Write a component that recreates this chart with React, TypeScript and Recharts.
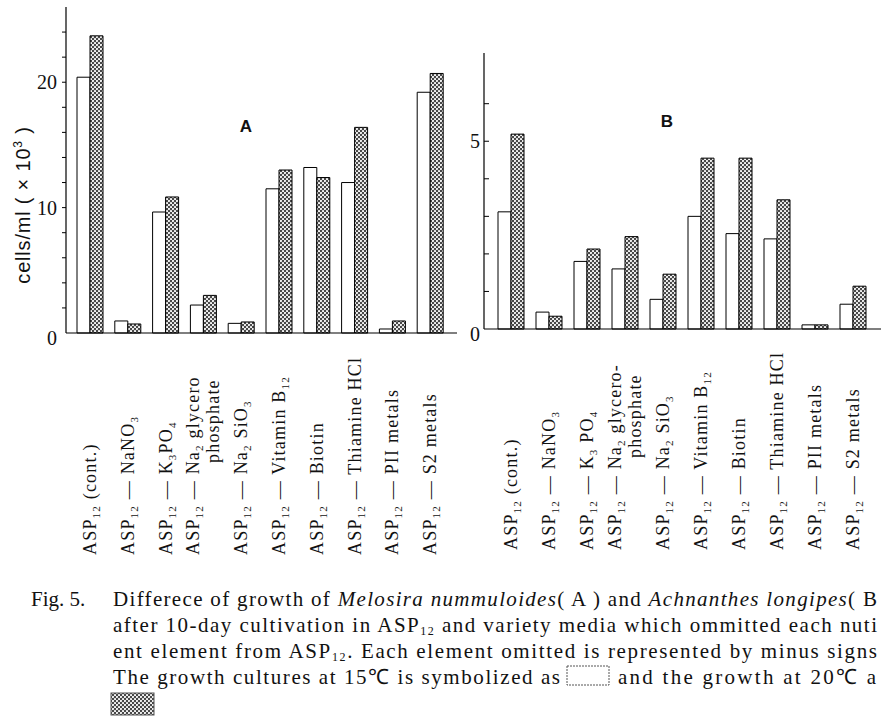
import React from "react";
import { Bar, BarChart, XAxis, YAxis } from "recharts";

// media: "_{..}" marks a subscript, "|" breaks the label onto a second line
const mediaA = [
  "ASP_{12} (cont.)",
  "ASP_{12} — NaNO_{3}",
  "ASP_{12} — K_{3}PO_{4}",
  "ASP_{12} — Na_{2} glycero|phosphate",
  "ASP_{12} — Na_{2} SiO_{3}",
  "ASP_{12} — Vitamin B_{12}",
  "ASP_{12} — Biotin",
  "ASP_{12} — Thiamine HCl",
  "ASP_{12} — PII metals",
  "ASP_{12} — S2 metals",
];
const mediaB = [
  "ASP_{12} (cont.)",
  "ASP_{12} — NaNO_{3}",
  "ASP_{12} — K_{3} PO_{4}",
  "ASP_{12} — Na_{2} glycero-|phosphate",
  "ASP_{12} — Na_{2} SiO_{3}",
  "ASP_{12} — Vitamin B_{12}",
  "ASP_{12} — Biotin",
  "ASP_{12} — Thiamine HCl",
  "ASP_{12} — PII metals",
  "ASP_{12} — S2 metals",
];

// cells/ml (x10^3), Melosira nummuloides (A)
const melosira15 = [20.4, 0.96, 9.65, 2.23, 0.77, 11.5, 13.2, 12.0, 0.32, 19.2];
const melosira20 = [23.7, 0.72, 10.85, 3.0, 0.88, 13.0, 12.4, 16.4, 0.96, 20.7];
// Achnanthes longipes (B)
const achnanthes15 = [3.12, 0.45, 1.8, 1.6, 0.79, 3.0, 2.54, 2.4, 0.11, 0.66];
const achnanthes20 = [5.19, 0.34, 2.13, 2.46, 1.46, 4.55, 4.55, 3.44, 0.11, 1.14];

const ticksA = [0, 2, 4, 6, 8, 10, 12, 14, 16, 18, 20, 22, 24];
const labelledA = [0, 10, 20];
const ticksB = [0, 1, 2, 3, 4, 5, 6];
const labelledB = [0, 5];

const dataA = mediaA.map((m, i) => ({ medium: m, t15: melosira15[i], t20: melosira20[i] }));
const dataB = mediaB.map((m, i) => ({ medium: m, t15: achnanthes15[i], t20: achnanthes20[i] }));

const serif = "'Liberation Serif', 'Times New Roman', serif";
const sans = "'Liberation Sans', Arial, sans-serif";
const ink = "#111";

function rich(s: string, subSize: number, shift: number) {
  const parts: { t: string; sub: boolean }[] = [];
  const re = /_\{([^}]*)\}/g;
  let last = 0;
  let m: RegExpExecArray | null;
  while ((m = re.exec(s))) {
    if (m.index > last) parts.push({ t: s.slice(last, m.index), sub: false });
    parts.push({ t: m[1], sub: true });
    last = re.lastIndex;
  }
  if (last < s.length) parts.push({ t: s.slice(last), sub: false });
  let cur = 0;
  return parts.map((p, i) => {
    const target = p.sub ? shift : 0;
    const dy = target - cur;
    cur = target;
    return (
      <tspan key={i} dy={dy} fontSize={p.sub ? subSize : undefined}>
        {p.t}
      </tspan>
    );
  });
}

function Stipple({ id }: { id: string }) {
  return (
    <pattern id={id} width={4} height={4} patternUnits="userSpaceOnUse">
      <rect width={4} height={4} fill="#484848" />
      <circle cx={1} cy={1} r={1.05} fill="#fff" />
      <circle cx={3} cy={3} r={1.05} fill="#fff" />
    </pattern>
  );
}

function MediumTick(props: any) {
  const { x, y, payload, drop } = props;
  const lines = String(payload.value).split("|");
  const half = (lines.length - 1) / 2;
  return (
    <g transform={`translate(${x},${y + drop}) rotate(-90)`}>
      {lines.map((line, i) => (
        <text
          key={i}
          x={i === 0 ? 0 : 92}
          y={(i - half) * 20 + 6}
          fontSize={18}
          fontFamily={serif}
          letterSpacing={1.2}
          fill={ink}
          style={{ whiteSpace: "pre" }}
        >
          {rich(line, 11, 4)}
        </text>
      ))}
    </g>
  );
}

function CountTick(props: any) {
  const { x, y, payload, labelled, inward, gap } = props;
  const v = payload.value;
  return (
    <g>
      {v > 0 && (
        <line x1={x} x2={inward ? x + 5 : x - 4} y1={y} y2={y} stroke="#000" strokeWidth={1} />
      )}
      {labelled.includes(v) && (
        <text
          x={x - gap}
          y={y + (v === 0 ? 5 : 0)}
          dy="0.36em"
          textAnchor="end"
          fontSize={20}
          fontFamily={serif}
          fill={ink}
        >
          {v}
        </text>
      )}
    </g>
  );
}

function Panel({
  data,
  width,
  top,
  axisHeight,
  right,
  yMax,
  ticks,
  labelled,
  inward,
  gap,
  pad,
  drop,
  pid,
}: any) {
  return (
    <BarChart
      width={width}
      height={560}
      data={data}
      margin={{ top, right, bottom: 0, left: 0 }}
      barGap={0}
      barSize={13}
    >
      <defs>
        <Stipple id={pid} />
      </defs>
      <XAxis
        dataKey="medium"
        height={axisHeight}
        interval={0}
        tickLine={false}
        tickSize={0}
        tickMargin={0}
        axisLine={{ stroke: "#000", strokeWidth: 1.2 }}
        padding={pad}
        tick={(p: any) => <MediumTick {...p} drop={drop} />}
      />
      <YAxis
        width={66}
        type="number"
        domain={[0, yMax]}
        ticks={ticks}
        interval={0}
        tickLine={false}
        tickSize={0}
        tickMargin={0}
        axisLine={{ stroke: "#000", strokeWidth: 1.2 }}
        tick={(p: any) => <CountTick {...p} labelled={labelled} inward={inward} gap={gap} />}
      />
      <Bar dataKey="t15" fill="#fff" stroke="#000" strokeWidth={1} isAnimationActive={false} />
      <Bar dataKey="t20" fill={`url(#${pid})`} stroke="#000" strokeWidth={1} isAnimationActive={false} />
    </BarChart>
  );
}

export default function App() {
  return (
    <div
      style={{
        position: "absolute",
        left: 0,
        top: 0,
        width: 881,
        height: 716,
        overflow: "hidden",
        background: "#fff",
      }}
    >
      <div style={{ position: "absolute", left: 0, top: 0 }}>
        <Panel
          data={dataA}
          width={470}
          top={7}
          axisHeight={227}
          right={13}
          yMax={26}
          ticks={ticksA}
          labelled={labelledA}
          inward={false}
          gap={9}
          pad={{ left: 5, right: 8 }}
          drop={222}
          pid="stippleA"
        />
      </div>
      <div style={{ position: "absolute", left: 418, top: 0 }}>
        <Panel
          data={dataB}
          width={463}
          top={53}
          axisHeight={231}
          right={0}
          yMax={7.35}
          ticks={ticksB}
          labelled={labelledB}
          inward={true}
          gap={4}
          pad={{ left: 8, right: 9 }}
          drop={221}
          pid="stippleB"
        />
      </div>
      <svg
        width={881}
        height={716}
        style={{ position: "absolute", left: 0, top: 0, pointerEvents: "none" }}
      >
        <defs>
          <Stipple id="stippleKey" />
        </defs>
        <text x={246} y={132} textAnchor="middle" fontFamily={sans} fontWeight="bold" fontSize={17} fill={ink}>
          A
        </text>
        <text x={667} y={127} textAnchor="middle" fontFamily={sans} fontWeight="bold" fontSize={17} fill={ink}>
          B
        </text>
        <text
          transform="translate(30,205) rotate(-90)"
          textAnchor="middle"
          fontFamily={sans}
          fontSize={20}
          letterSpacing={0.8}
          fill={ink}
          style={{ whiteSpace: "pre" }}
        >
          cells/ml ( × 10<tspan dy={-8} fontSize={12}>3</tspan>
          <tspan dy={8}> )</tspan>
        </text>

        <g fontFamily={serif} fontSize={21} fill={ink} style={{ whiteSpace: "pre" }}>
          <text x={31} y={606}>Fig. 5.</text>
          <text x={113} y={606} textLength={764} lengthAdjust="spacing">
            Differece of growth of <tspan fontStyle="italic">Melosira nummuloides</tspan>( A ) and{" "}
            <tspan fontStyle="italic">Achnanthes longipes</tspan>( B
          </text>
          <text x={113} y={632} textLength={764} lengthAdjust="spacing">
            after 10-day cultivation in ASP<tspan dy={3} fontSize={12}>12</tspan>
            <tspan dy={-3}> and variety media which ommitted each nuti</tspan>
          </text>
          <text x={113} y={658} textLength={764} lengthAdjust="spacing">
            ent element from ASP<tspan dy={3} fontSize={12}>12</tspan>
            <tspan dy={-3}>.  Each element omitted is represented by minus signs</tspan>
          </text>
          <text x={113} y={684} textLength={447} lengthAdjust="spacing">
            The growth cultures at 15℃ is symbolized as
          </text>
          <text x={618} y={684} textLength={258} lengthAdjust="spacing">
            and the growth  at  20℃ a
          </text>
        </g>
        <rect x={567} y={666} width={42} height={19} fill="#fff" stroke="#555" strokeWidth={1} strokeDasharray="2 1" />
        <rect x={111} y={693} width={43} height={22} fill="url(#stippleKey)" stroke="#555" strokeWidth={1} />
      </svg>
    </div>
  );
}
